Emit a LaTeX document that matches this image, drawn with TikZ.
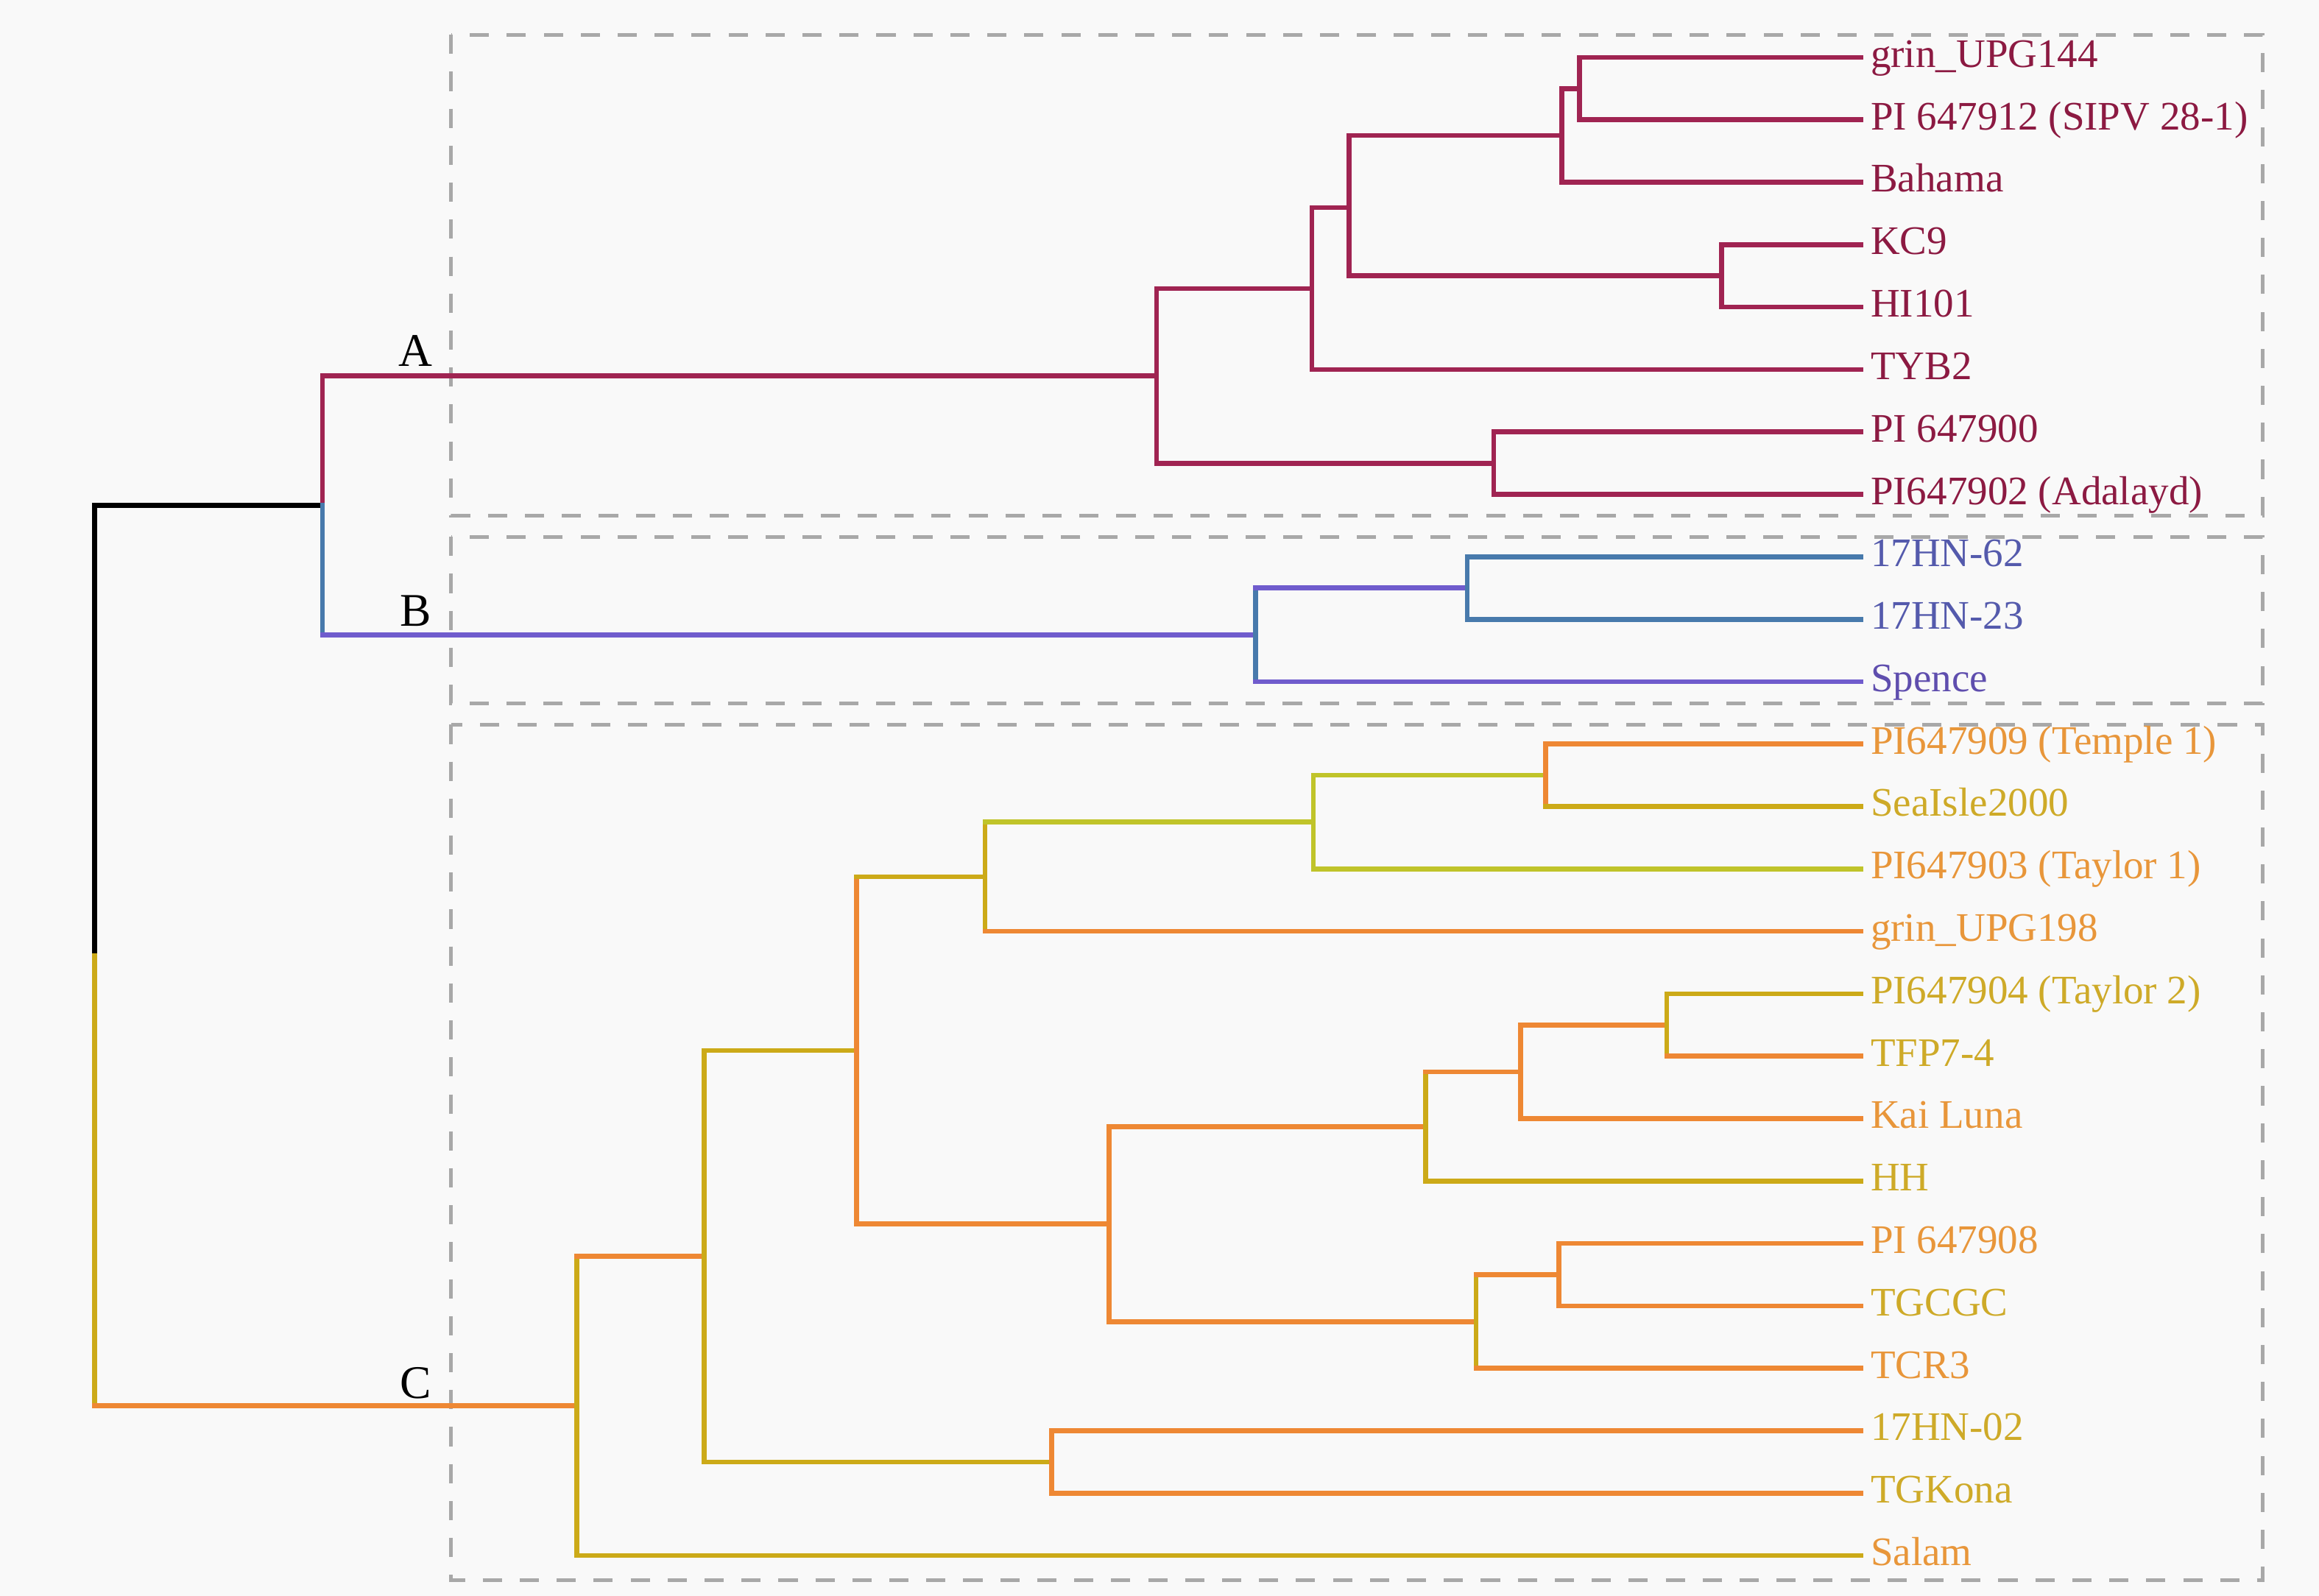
\documentclass[tikz,border=0pt]{standalone}
\usepackage{fontspec}
\setmainfont{Liberation Serif}
\definecolor{bgcol}{RGB}{249,249,249}
\definecolor{boxgray}{RGB}{168,168,168}
\definecolor{crim}{RGB}{160,36,82}
\definecolor{crimtxt}{RGB}{140,26,66}
\definecolor{steel}{RGB}{72,122,172}
\definecolor{purp}{RGB}{112,92,205}
\definecolor{btxt}{RGB}{84,90,172}
\definecolor{orng}{RGB}{238,136,52}
\definecolor{gold}{RGB}{204,170,24}
\definecolor{ygrn}{RGB}{192,196,42}
\definecolor{ctxtO}{RGB}{232,150,58}
\definecolor{ctxtG}{RGB}{206,170,40}
\newcommand\brEdge[4]{\draw[br,#1] (#3) -- (#3 |- #4); \draw[br,#2] (#3 |- #4) -- (#4);}
\begin{document}
\begin{tikzpicture}[x=0.02cm,y=-0.02cm,
  br/.style={line width=1.9pt,line cap=rect},
  leaf/.style={anchor=west,inner xsep=0.13cm,inner ysep=0pt,text height=0.76em,text depth=0pt,font=\fontsize{15.6}{18}\selectfont},
  clade/.style={inner sep=0pt,font=\fontsize{18}{20}\selectfont},
  grpbox/.style={draw=boxgray,line width=1.4pt,dash pattern=on 0.26cm off 0.24cm}]
\fill[bgcol] (0,0) rectangle (1568,1079);
\useasboundingbox (0,0) rectangle (1568,1079);
% group boxes
\draw[grpbox] (305,23.5) rectangle (1530,348.5);
\draw[grpbox] (305,363) rectangle (1530,475.5);
\draw[grpbox] (305,490) rectangle (1530,1068.5);
% leaves
\node[leaf,text=crimtxt] (L1) at (1258,38.8) {grin\_UPG144};
\node[leaf,text=crimtxt] (L2) at (1258,81.0) {PI 647912 (SIPV 28-1)};
\node[leaf,text=crimtxt] (L3) at (1258,123.2) {Bahama};
\node[leaf,text=crimtxt] (L4) at (1258,165.4) {KC9};
\node[leaf,text=crimtxt] (L5) at (1258,207.6) {HI101};
\node[leaf,text=crimtxt] (L6) at (1258,249.9) {TYB2};
\node[leaf,text=crimtxt] (L7) at (1258,292.1) {PI 647900};
\node[leaf,text=crimtxt] (L8) at (1258,334.3) {PI647902 (Adalayd)};
\node[leaf,text=btxt] (L9) at (1258,376.5) {17HN-62};
\node[leaf,text=btxt] (L10) at (1258,418.7) {17HN-23};
\node[leaf,text=purp!85!black] (L11) at (1258,460.9) {Spence};
\node[leaf,text=ctxtO] (L12) at (1258,503.1) {PI647909 (Temple 1)};
\node[leaf,text=ctxtG] (L13) at (1258,545.3) {SeaIsle2000};
\node[leaf,text=ctxtO] (L14) at (1258,587.5) {PI647903 (Taylor 1)};
\node[leaf,text=ctxtO] (L15) at (1258,629.7) {grin\_UPG198};
\node[leaf,text=ctxtG] (L16) at (1258,672.0) {PI647904 (Taylor 2)};
\node[leaf,text=ctxtG] (L17) at (1258,714.2) {TFP7-4};
\node[leaf,text=ctxtO] (L18) at (1258,756.4) {Kai Luna};
\node[leaf,text=ctxtG] (L19) at (1258,798.6) {HH};
\node[leaf,text=ctxtO] (L20) at (1258,840.8) {PI 647908};
\node[leaf,text=ctxtG] (L21) at (1258,883.0) {TGCGC};
\node[leaf,text=ctxtO] (L22) at (1258,925.2) {TCR3};
\node[leaf,text=ctxtG] (L23) at (1258,967.4) {17HN-02};
\node[leaf,text=ctxtG] (L24) at (1258,1009.6) {TGKona};
\node[leaf,text=ctxtO] (L25) at (1258,1051.8) {Salam};
% internal nodes
\coordinate (root) at (64,646.1);
\coordinate (nAB) at (218,341.6);
\coordinate (nA) at (782,254.2);
\coordinate (nA5) at (887,195.1);
\coordinate (nA4) at (912,140.3);
\coordinate (nA2) at (1056,91.6);
\coordinate (nA1) at (1068,59.9);
\coordinate (nA3) at (1164,186.5);
\coordinate (nA6) at (1010,313.2);
\coordinate (nB) at (849,429.3);
\coordinate (nB1) at (992,397.6);
\coordinate (nC) at (390,950.6);
\coordinate (nC12) at (476,849.4);
\coordinate (nC10) at (579,710.3);
\coordinate (nC3) at (666,592.8);
\coordinate (nC2) at (888,555.9);
\coordinate (nC1) at (1045,524.2);
\coordinate (nC9) at (750,827.7);
\coordinate (nC6) at (964,761.7);
\coordinate (nC5) at (1028,724.8);
\coordinate (nC4) at (1127,693.1);
\coordinate (nC8) at (998,893.6);
\coordinate (nC7) at (1054,861.9);
\coordinate (nC11) at (711,988.5);
% clade labels
\node[clade] (labA) at (281,237) {A};
\node[clade] (labB) at (281,413) {B};
\node[clade] (labC) at (281,935) {C};
% branches
\brEdge{black}{black}{root}{nAB}
\brEdge{gold}{orng}{root}{nC}
\brEdge{crim}{crim}{nAB}{nA}
\brEdge{steel}{purp}{nAB}{nB}
% clade A
\brEdge{crim}{crim}{nA}{nA5}
\brEdge{crim}{crim}{nA}{nA6}
\brEdge{crim}{crim}{nA5}{nA4}
\brEdge{crim}{crim}{nA5}{L6.west}
\brEdge{crim}{crim}{nA4}{nA2}
\brEdge{crim}{crim}{nA4}{nA3}
\brEdge{crim}{crim}{nA2}{nA1}
\brEdge{crim}{crim}{nA2}{L3.west}
\brEdge{crim}{crim}{nA1}{L1.west}
\brEdge{crim}{crim}{nA1}{L2.west}
\brEdge{crim}{crim}{nA3}{L4.west}
\brEdge{crim}{crim}{nA3}{L5.west}
\brEdge{crim}{crim}{nA6}{L7.west}
\brEdge{crim}{crim}{nA6}{L8.west}
% clade B
\brEdge{steel}{purp}{nB}{nB1}
\brEdge{steel}{purp}{nB}{L11.west}
\brEdge{steel}{steel}{nB1}{L9.west}
\brEdge{steel}{steel}{nB1}{L10.west}
% clade C
\brEdge{gold}{orng}{nC}{nC12}
\brEdge{gold}{gold}{nC}{L25.west}
\brEdge{gold}{gold}{nC12}{nC10}
\brEdge{gold}{gold}{nC12}{nC11}
\brEdge{orng}{orng}{nC11}{L23.west}
\brEdge{orng}{orng}{nC11}{L24.west}
\brEdge{orng}{gold}{nC10}{nC3}
\brEdge{orng}{orng}{nC10}{nC9}
\brEdge{gold}{ygrn}{nC3}{nC2}
\brEdge{gold}{orng}{nC3}{L15.west}
\brEdge{ygrn}{ygrn}{nC2}{nC1}
\brEdge{ygrn}{ygrn}{nC2}{L14.west}
\brEdge{orng}{orng}{nC1}{L12.west}
\brEdge{orng}{gold}{nC1}{L13.west}
\brEdge{orng}{orng}{nC9}{nC6}
\brEdge{orng}{orng}{nC9}{nC8}
\brEdge{gold}{orng}{nC6}{nC5}
\brEdge{gold}{gold}{nC6}{L19.west}
\brEdge{orng}{orng}{nC5}{nC4}
\brEdge{orng}{orng}{nC5}{L18.west}
\brEdge{gold}{gold}{nC4}{L16.west}
\brEdge{gold}{orng}{nC4}{L17.west}
\brEdge{gold}{orng}{nC8}{nC7}
\brEdge{gold}{orng}{nC8}{L22.west}
\brEdge{orng}{orng}{nC7}{L20.west}
\brEdge{orng}{orng}{nC7}{L21.west}
\end{tikzpicture}
\end{document}
